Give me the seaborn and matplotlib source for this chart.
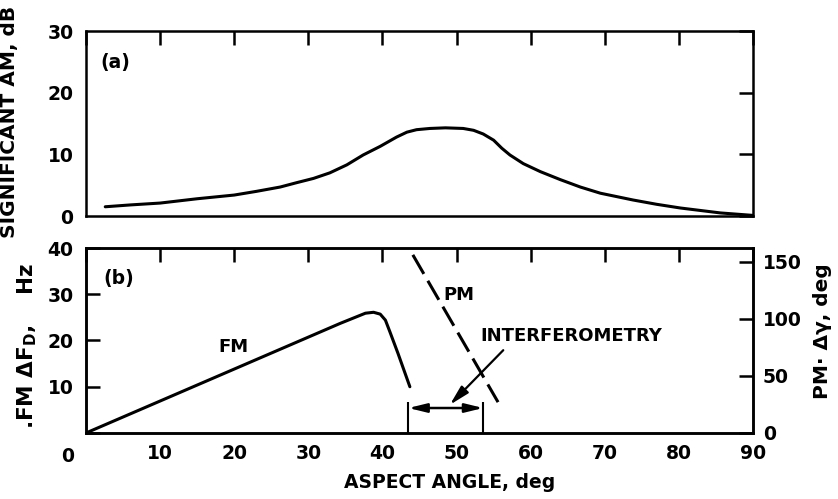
import matplotlib

matplotlib.use("Agg")
import matplotlib.pyplot as plt
import pandas as pd
import seaborn as sns

# (a) significant AM against aspect angle
AM_ANGLE = [2.6, 6, 10, 15, 20, 23, 26.2, 28.4, 30.7, 32.9, 35.2, 37.4, 39.7, 41.9,
            43.3, 44.6, 46.4, 48.5, 50.9, 52.3, 53.6, 55.0, 56.1, 57.2, 59.0, 61.3,
            64.0, 66.7, 69.4, 73.8, 77.0, 80.2, 85.6, 90]
AM_DB = [1.5, 1.8, 2.1, 2.8, 3.4, 4.0, 4.7, 5.4, 6.1, 7.0, 8.3, 9.9, 11.3, 12.8,
         13.6, 14.0, 14.2, 14.3, 14.2, 13.9, 13.3, 12.3, 11.0, 9.9, 8.5, 7.2,
         5.9, 4.7, 3.7, 2.6, 1.9, 1.3, 0.5, 0.1]

# (b) FM doppler spread (left axis) and PM phase (right axis)
FM_ANGLE = [0, 34.3, 37.7, 38.8, 39.7, 40.4, 41.0, 42.1, 43.7]
FM_HZ = [0, 23.7, 25.9, 26.1, 25.7, 24.4, 21.9, 17.2, 10.0]
PM_ANGLE = [44.1, 55.6]
PM_DEG = [156, 27]

# interferometry window and the pointer to it
INTERF_ANGLE = [43.5, 53.6]
INTERF_LEVEL = 5.4
INTERF_BAR_TOP = 6.7
POINTER_TAIL = (56.3, 17.9)
POINTER_HEAD = (49.1, 6.1)

X_TICKS = [0, 10, 20, 30, 40, 50, 60, 70, 80, 90]
AM_TICKS = [0, 10, 20, 30]
FM_TICKS = [0, 10, 20, 30, 40]
FM_TICK_LABELS = ["", "10", "20", "30", "40"]
PM_TICKS = [0, 50, 100, 150]

sns.set_theme(style="white")
plt.rcParams["font.family"] = ["DejaVu Sans"]
plt.rcParams["font.weight"] = "bold"
plt.rcParams["mathtext.fontset"] = "dejavusans"
plt.rcParams["mathtext.default"] = "bf"
plt.rcParams["text.color"] = "black"
plt.rcParams["axes.labelcolor"] = "black"
plt.rcParams["axes.labelweight"] = "bold"

LW = 2.2
SPINE_W = 1.8
FS = 13.5
LABEL_FS = 14.5

am_df = pd.DataFrame({"angle": AM_ANGLE, "am": AM_DB})
fm_df = pd.DataFrame({"angle": FM_ANGLE, "fm": FM_HZ})
pm_df = pd.DataFrame({"angle": PM_ANGLE, "pm": PM_DEG})

fig = plt.figure(figsize=(8.38, 4.99), dpi=100)
ax_a = fig.add_axes([0.1026, 0.5671, 0.796, 0.3707])
ax_b = fig.add_axes([0.1026, 0.1323, 0.796, 0.3707])
ax_pm = ax_b.twinx()

sns.lineplot(data=am_df, x="angle", y="am", ax=ax_a, color="black", lw=LW)
sns.lineplot(data=fm_df, x="angle", y="fm", ax=ax_b, color="black", lw=LW)
sns.lineplot(data=pm_df, x="angle", y="pm", ax=ax_pm, color="black", lw=LW,
             linestyle=(0, (7.2, 2.6)))

# --- panel (a) ---
ax_a.set_xlim(0, 90)
ax_a.set_ylim(0, 30)
ax_a.set_xticks(X_TICKS)
ax_a.set_yticks(AM_TICKS)
ax_a.tick_params(labelbottom=False, top=True, right=True)
ax_a.set_xlabel("")
ax_a.set_ylabel("SIGNIFICANT AM, dB", fontsize=LABEL_FS)
ax_a.yaxis.set_label_coords(-0.1, 0.51)
ax_a.text(1.9, 24.9, "(a)", fontsize=FS, va="center", ha="left")

# --- panel (b) ---
ax_b.set_xlim(0, 90)
ax_b.set_ylim(0, 40)
ax_b.set_xticks(X_TICKS)
ax_b.set_xticklabels([""] + [str(t) for t in X_TICKS[1:]])
ax_b.set_yticks(FM_TICKS)
ax_b.set_yticklabels(FM_TICK_LABELS)
ax_b.tick_params(top=True, right=False)
ax_b.set_xlabel("ASPECT ANGLE, deg", fontsize=FS)
ax_b.xaxis.set_label_coords(0.545, -0.216)
ax_b.set_ylabel(r".FM Δ$F_D$,    Hz", fontsize=15.5)
ax_b.yaxis.set_label_coords(-0.07, 0.47)
ax_b.annotate("0", xy=(0, 0), xycoords="data", xytext=(-13, -17),
              textcoords="offset points", fontsize=FS, ha="center", va="center")

ax_pm.set_ylim(0, 162)
ax_pm.set_yticks(PM_TICKS)
ax_pm.tick_params(left=False, right=True)
ax_pm.set_ylabel("PM· Δγ, deg", fontsize=LABEL_FS)
ax_pm.yaxis.set_label_coords(1.09, 0.55)

ax_b.text(2.4, 33.5, "(b)", fontsize=FS, va="center", ha="left")
ax_b.text(17.8, 18.7, "FM", fontsize=FS - 0.5, va="center", ha="left")
ax_b.text(48.2, 29.9, "PM", fontsize=FS - 0.5, va="center", ha="left")
ax_b.text(53.2, 21.0, "INTERFEROMETRY", fontsize=FS - 0.5, va="center", ha="left")

ax_b.vlines(INTERF_ANGLE, 0, INTERF_BAR_TOP, color="black", lw=1.5)
ax_b.annotate("", xy=(INTERF_ANGLE[0], INTERF_LEVEL), xytext=(INTERF_ANGLE[1], INTERF_LEVEL),
              arrowprops=dict(arrowstyle="<|-|>,head_length=0.9,head_width=0.22",
                              color="black", lw=1.8, shrinkA=0, shrinkB=0))
ax_b.annotate("", xy=POINTER_HEAD, xytext=POINTER_TAIL,
              arrowprops=dict(arrowstyle="-|>,head_length=1.0,head_width=0.25",
                              color="black", lw=1.6, shrinkA=0, shrinkB=0))

for ax in (ax_a, ax_b, ax_pm):
    for spine in ax.spines.values():
        spine.set_linewidth(SPINE_W)
        spine.set_color("black")
    ax.tick_params(direction="in", length=10, width=SPINE_W, colors="black",
                   labelsize=FS)
ax_a.tick_params(axis="y", pad=9)
ax_b.tick_params(axis="y", pad=9)
ax_b.tick_params(axis="x", pad=8)
ax_pm.tick_params(axis="y", pad=7)

fig.savefig("out.png", dpi=100)
